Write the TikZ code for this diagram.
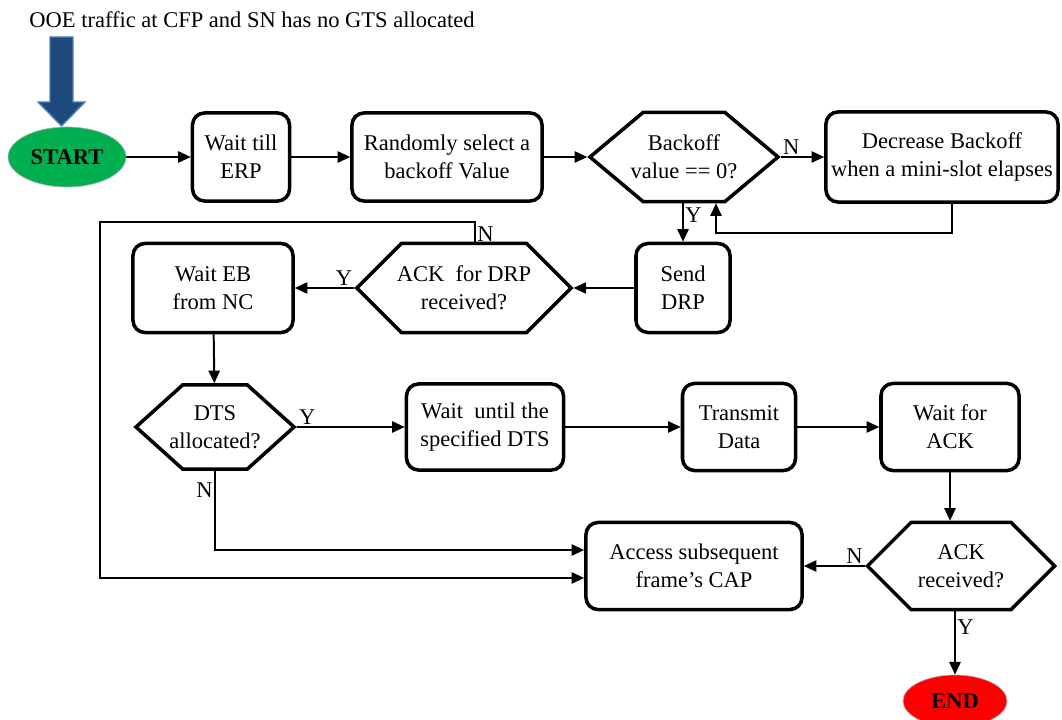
\documentclass[tikz,border=0pt]{standalone}
\usepackage{fontspec}
\setmainfont{Liberation Serif}
\usetikzlibrary{shapes.geometric,shapes.symbols,arrows.meta}
\definecolor{startgreen}{RGB}{0,176,80}
\definecolor{arrowblue}{RGB}{31,73,125}
\definecolor{arrowedge}{RGB}{79,129,189}
\tikzset{
	every node/.style={font=\fontsize{16}{20}\selectfont},
	proc/.style={draw, rounded corners=0.3cm, line width=2.5pt, align=center, inner sep=2pt},
	test/.style={draw, signal, signal to=east and west, signal pointer angle=90, line width=2.5pt, align=center, inner ysep=1pt, inner xsep=-14pt},
	term/.style={ellipse, draw=gray!60, line width=0.5pt, font=\fontsize{16}{20}\selectfont\bfseries},
	arr/.style={line width=1.4pt, -{Triangle[length=9pt,width=8pt]}},
	lbl/.style={inner sep=1pt}
}

\begin{document}
\begin{tikzpicture}[x=0.025cm,y=-0.025cm]
	\useasboundingbox (0,0) rectangle (1062,720);
	\node (title) at (252,20) {OOE traffic at CFP and SN has no GTS allocated};
	\filldraw[fill=arrowblue,draw=arrowedge,line width=1pt] (50,37) -- (73,37) -- (73,102) -- (85,102) -- (61.5,126) -- (38,102) -- (50,102) -- cycle;
	\node[term,fill=startgreen,minimum width=2.95cm,minimum height=1.5cm] (start) at (67,157) {START};
	\node[proc,minimum width=2.425cm,minimum height=2.2cm] (erp) at (241,157) {Wait till\\ERP};
	\node[proc,minimum width=4.75cm,minimum height=2.2cm] (rnd) at (447,157) {Randomly select a\\backoff Value};
	\node[test,signal pointer angle=80,minimum width=4.7cm,minimum height=2.225cm] (bzero) at (684,157) {Backoff\\value == 0?};
	\node[proc,minimum width=5.8cm,minimum height=2.25cm] (dec) at (942,157) {Decrease Backoff\\when a mini-slot elapses};
	\node[proc,minimum width=2.35cm,minimum height=2.225cm] (drp) at (683,288) {Send\\DRP};
	\node[test,minimum width=5.35cm,minimum height=2.225cm] (ackdrp) at (464,288) {ACK \ for DRP\\received?};
	\node[proc,minimum width=4cm,minimum height=2.225cm] (waiteb) at (213,288) {Wait EB\\from NC};
	\node[test,signal pointer angle=84,minimum width=3.95cm,minimum height=2.1cm] (dts) at (215,427) {DTS\\allocated?};
	\node[proc,minimum width=3.925cm,minimum height=2.15cm] (waitdts) at (485,427) {Wait \ until the\\specified DTS};
	\node[proc,minimum width=2.825cm,minimum height=2.175cm] (tx) at (739,427) {Transmit\\Data};
	\node[proc,minimum width=3.45cm,minimum height=2.175cm] (waitack) at (950,427) {Wait for\\ACK};
	\node[test,minimum width=4.675cm,minimum height=2.175cm] (ackrx) at (961,566) {ACK\\received?};
	\node[proc,minimum width=5.4cm,minimum height=2.175cm] (cap) at (694,566) {Access subsequent\\frame's CAP};
	\node[term,fill=red,minimum width=2.6cm,minimum height=1.3cm] (endn) at (955,701) {END};
	\coordinate (back) at (716,233);
	\coordinate (loop) at (100,222);
	\draw[arr] (start) -- (erp);
	\draw[arr] (erp) -- (rnd);
	\draw[arr] (rnd) -- (bzero);
	\draw[arr] (bzero) -- node[pos=0,above right,lbl] {N} (dec);
	\draw[arr] (bzero.south -| drp.north) -- node[pos=0.3,right,lbl] {Y} (drp.north);
	\draw[arr] ([xshift=0.25cm]dec.south) |- (back) -- (back |- bzero.south);
	\draw[arr] (drp) -- (ackdrp);
	\draw[arr] (ackdrp) -- node[pos=0,above left,lbl] {Y} (waiteb);
	\draw[arr] ([xshift=0.275cm]ackdrp.north) |- (loop) node[pos=0.2,right,lbl] {N} |- ([yshift=-0.3cm]cap.west);
	\draw[arr] (waiteb) -- (dts);
	\draw[arr] (dts) -- node[pos=0,above right,lbl] {Y} (waitdts);
	\draw[arr] (dts.south) -- node[pos=0.25,left,lbl] {N} (dts.south |- 0,550) -- ([yshift=0.4cm]cap.west);
	\draw[arr] (waitdts) -- (tx);
	\draw[arr] (tx) -- (waitack);
	\draw[arr] (waitack.south) -- (waitack.south |- ackrx.north);
	\draw[arr] (ackrx) -- node[pos=0,above left,lbl] {N} (cap);
	\draw[arr] (ackrx.south -| endn.north) -- node[pos=0.25,right,lbl] {Y} (endn.north);
\end{tikzpicture}
\end{document}
